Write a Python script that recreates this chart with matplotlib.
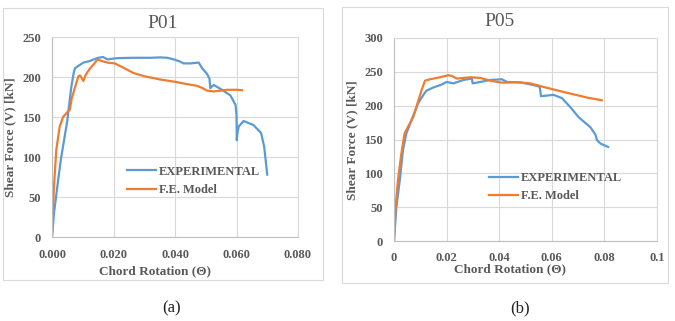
import matplotlib
matplotlib.use("Agg")
import matplotlib.pyplot as plt
from matplotlib.patches import Rectangle

# ---------------- data ----------------
p01_exp_x = [0, 0.00065, 0.002, 0.003, 0.0041, 0.005, 0.0055, 0.0063, 0.0071, 0.0075,
             0.0090, 0.0102, 0.0123, 0.0150, 0.0166, 0.0180, 0.0210, 0.0260, 0.0320,
             0.0352, 0.0375, 0.0396, 0.0412, 0.0428, 0.0450, 0.0477, 0.0482, 0.0488,
             0.0504, 0.0512, 0.0515, 0.0517, 0.0526, 0.0553, 0.0580, 0.0590, 0.0597,
             0.0600, 0.0601, 0.0603, 0.0607, 0.0623, 0.0655, 0.0680, 0.0690, 0.0700]
p01_exp_y = [0, 30, 71, 100, 125, 146, 163, 188, 206, 211,
             215, 218, 220, 224, 225, 222, 223.5, 224, 224,
             224.5, 224, 222, 220, 217, 217, 218, 215, 211,
             204, 198, 186, 187, 190, 184, 177, 170, 165,
             152, 121, 130, 138, 145, 140, 130, 113, 78]

p01_fe_x = [0, 0.0006, 0.0014, 0.0025, 0.0036, 0.0052, 0.0058, 0.0064, 0.0074, 0.0086,
            0.0091, 0.0096, 0.0102, 0.0110, 0.0124, 0.0136, 0.0148, 0.0162, 0.0180,
            0.0204, 0.0225, 0.0265, 0.0300, 0.0350, 0.0400, 0.0440, 0.0472, 0.0490,
            0.0504, 0.0526, 0.0550, 0.0570, 0.0600, 0.0618]
p01_fe_y = [0, 60, 109, 138, 150, 157, 159, 173, 186, 201,
            202, 199, 195, 203, 211, 216, 222, 220, 218,
            217, 213, 205, 201, 197, 194, 191, 189, 186,
            183, 182, 183, 184, 184, 183.5]

p05_exp_x = [0, 0.0009, 0.0022, 0.0034, 0.0047, 0.0066, 0.0091, 0.0110, 0.0123, 0.0150,
             0.0180, 0.0200, 0.0226, 0.0264, 0.0296, 0.0299, 0.0328, 0.0366, 0.0410,
             0.0430, 0.0480, 0.0530, 0.0554, 0.0559, 0.0607, 0.0639, 0.0670, 0.0702,
             0.0747, 0.0766, 0.0772, 0.0785, 0.0814]
p05_exp_y = [0, 50, 90, 134, 159, 178, 203, 215, 222, 227,
             231, 235, 233, 238, 240, 233, 235, 238, 239,
             235, 234.5, 230.5, 228, 214, 216, 211, 198, 183,
             168, 157, 149, 144, 139]

p05_fe_x = [0, 0.0006, 0.0015, 0.0028, 0.0040, 0.0074, 0.0105, 0.0118, 0.0137, 0.0175,
            0.0207, 0.0220, 0.0239, 0.0290, 0.0328, 0.0366, 0.0410, 0.0468, 0.0518,
            0.0580, 0.0658, 0.0734, 0.0790]
p05_fe_y = [0, 50, 90, 129, 159, 184, 223, 237, 239, 242,
            245, 244, 240, 242, 241, 237, 234, 234.5, 233,
            226.5, 219, 212, 208]

p01_xticks = [0, 0.02, 0.04, 0.06, 0.08]
p01_xlabels = ["0.000", "0.020", "0.040", "0.060", "0.080"]
p01_yticks = [0, 50, 100, 150, 200, 250]
p05_xticks = [0, 0.02, 0.04, 0.06, 0.08, 0.1]
p05_xlabels = ["0", "0.02", "0.04", "0.06", "0.08", "0.1"]
p05_yticks = [0, 50, 100, 150, 200, 250, 300]

labels = ["EXPERIMENTAL", "F.E. Model"]

# ---------------- styling ----------------
W, H = 675, 321
BLUE = "#5b9bd5"
ORANGE = "#ed7d31"
GRAY = "#595959"
GRID = "#d9d9d9"
SERIF = "Liberation Serif"
FS = 9.0

fig = plt.figure(figsize=(W / 100, H / 100), dpi=100)


def px_box(x0, y0, x1, y1):
    # pixel box (top-left origin) -> figure fraction [l, b, w, h]
    return [x0 / W, 1 - y1 / H, (x1 - x0) / W, (y1 - y0) / H]


def panel(box, xs, ys, xticks, xlabels, yticks, xmax, ymax, leg_anchor, xpad):
    ax = fig.add_axes(px_box(*box))
    ax.plot(xs[0], ys[0], color=BLUE, lw=1.6, label=labels[0])
    ax.plot(xs[1], ys[1], color=ORANGE, lw=1.6, label=labels[1])
    ax.set_xlim(0, xmax)
    ax.set_ylim(0, ymax)
    ax.set_xticks(xticks)
    ax.set_xticklabels(xlabels)
    ax.set_yticks(yticks)
    ax.grid(True, color=GRID, lw=0.8)
    ax.set_axisbelow(True)
    for s in ax.spines.values():
        s.set_color(GRID)
        s.set_linewidth(0.8)
    ax.spines["left"].set_color("#bfbfbf")
    ax.spines["bottom"].set_color("#bfbfbf")
    ax.tick_params(length=0, labelcolor=GRAY)
    ax.tick_params(axis="y", pad=8)
    ax.tick_params(axis="x", pad=xpad)
    for t in ax.get_xticklabels() + ax.get_yticklabels():
        t.set_fontfamily(SERIF)
        t.set_fontweight("bold")
        t.set_fontsize(FS)
    leg = ax.legend(loc="center left", bbox_to_anchor=leg_anchor, frameon=False,
                    borderaxespad=0, borderpad=0, handlelength=2.3,
                    handletextpad=0.25, labelspacing=0.5,
                    prop={"family": SERIF, "weight": "bold", "size": FS})
    for t in leg.get_texts():
        t.set_color(GRAY)
    return ax


panel((52, 37, 298, 237), [p01_exp_x, p01_fe_x], [p01_exp_y, p01_fe_y],
      p01_xticks, p01_xlabels, p01_yticks, 0.08, 250, (0.305, 0.28), 9)
panel((394, 38, 657, 241), [p05_exp_x, p05_fe_x], [p05_exp_y, p05_fe_y],
      p05_xticks, p05_xlabels, p05_yticks, 0.1, 300, (0.361, 0.266), 8)

# panel borders
for x0, y0, x1, y1 in [(3, 8, 323, 280), (342, 7, 668, 283)]:
    l, b, w, h = px_box(x0, y0, x1, y1)
    fig.patches.append(Rectangle((l, b), w, h, transform=fig.transFigure,
                                 fill=False, edgecolor=GRID, lw=0.8))


def ftext(x, y, s, **kw):
    fig.text(x / W, 1 - y / H, s, ha="center", va="center", family=SERIF, **kw)


ftext(163, 23, "P01", fontsize=14, color=GRAY)
ftext(500, 22, "P05", fontsize=14, color=GRAY)
ftext(155, 271, "Chord Rotation (\u0398)", fontsize=9.5, color=GRAY, weight="bold")
ftext(510, 269, "Chord Rotation (\u0398)", fontsize=9.5, color=GRAY, weight="bold")
ftext(10, 137, "Shear Force (V) [kN]", fontsize=9.5, color=GRAY, weight="bold", rotation=90)
ftext(352, 140, "Shear Force (V) [kN]", fontsize=9.5, color=GRAY, weight="bold", rotation=90)
ftext(172, 308, "(a)", fontsize=12, color="#222222")
ftext(520, 308, "(b)", fontsize=12, color="#222222")

fig.savefig("out.png", dpi=100, facecolor="white")
